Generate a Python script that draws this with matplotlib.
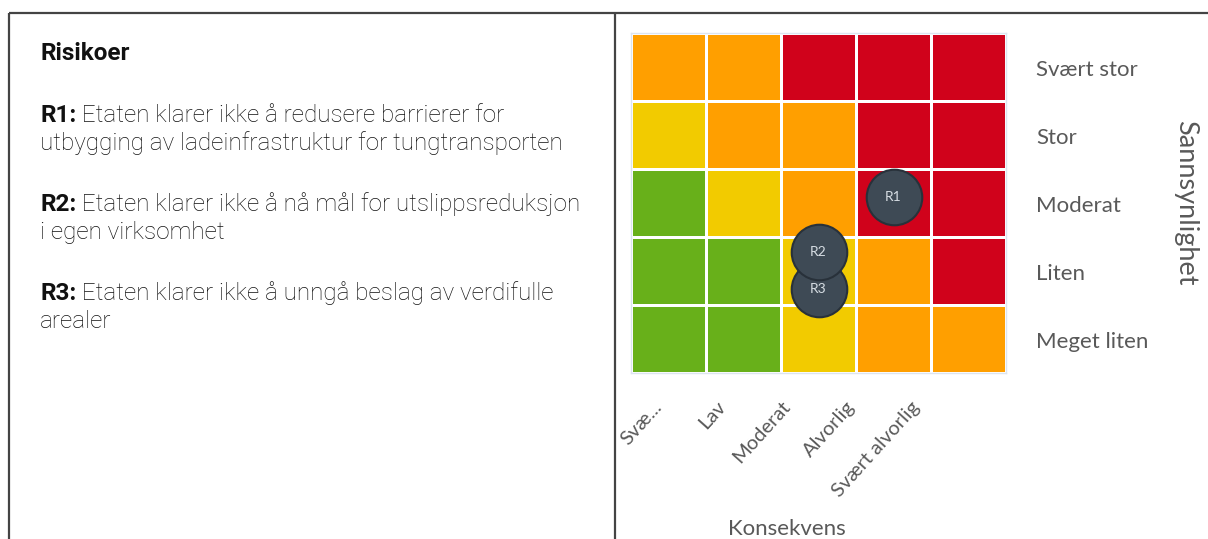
import numpy as np
import matplotlib
matplotlib.use('Agg')
import matplotlib.pyplot as plt
from matplotlib.colors import ListedColormap

# risikomatrise: rader = sannsynlighet (nederst -> øverst), kolonner = konsekvens
konsekvens = ['Svæ...', 'Lav', 'Moderat', 'Alvorlig', 'Svært alvorlig']
sannsynlighet = ['Meget liten', 'Liten', 'Moderat', 'Stor', 'Svært stor']
# 0 = grønn, 1 = gul, 2 = oransje, 3 = rød
niva = [
    [0, 0, 1, 2, 2],
    [0, 0, 1, 2, 3],
    [0, 1, 2, 3, 3],
    [1, 2, 2, 3, 3],
    [2, 2, 3, 3, 3],
]
farger = ['#68b01a', '#f2cb00', '#ff9f00', '#d0021b']

risiko_navn = ['R3', 'R2', 'R1']
risiko_kons = [3, 3, 4]          # 1..5
risiko_sann = [2, 2, 3]          # 1..5
risiko_forskyv = [-0.27, 0.28, 0.09]   # stabling innen cellen

tekst_tittel = 'Risikoer'
tekst_koder = ['R1:', 'R2:', 'R3:']
tekst_linjer = [
    ['Etaten klarer ikke å redusere barrierer for',
     'utbygging av ladeinfrastruktur for tungtransporten'],
    ['Etaten klarer ikke å nå mål for utslippsreduksjon',
     'i egen virksomhet'],
    ['Etaten klarer ikke å unngå beslag av verdifulle',
     'arealer'],
]

W, H = 1208, 539
fig = plt.figure(figsize=(W / 100, H / 100), dpi=100)

# bakgrunnsakse i piksler for ramme og tekst
bg = fig.add_axes([0, 0, 1, 1])
bg.set_xlim(0, W)
bg.set_ylim(H, 0)
bg.axis('off')
bg.plot([9, W + 5], [13, 13], color='#444444', lw=1.6, solid_capstyle='butt')
bg.plot([9, 9], [13, H + 5], color='#444444', lw=1.6, solid_capstyle='butt')
bg.plot([614.5, 614.5], [13, H + 5], color='#444444', lw=1.6, solid_capstyle='butt')

body_font = 'Roboto'
fs = 17.5
bg.text(40, 60, tekst_tittel, fontsize=fs, fontweight='bold', family=body_font,
        color='#111111', va='baseline', ha='left')
y0 = 122
for i, (kode, linjer) in enumerate(zip(tekst_koder, tekst_linjer)):
    y = y0 + i * 89
    t = bg.text(40, y, kode, fontsize=fs, fontweight='bold', family=body_font,
                color='#111111', va='baseline', ha='left')
    bg.annotate(' ' + linjer[0], xy=(1, 0), xycoords=t, va='bottom', ha='left',
                fontsize=fs, fontweight='light', family=body_font, color='#111111')
    bg.text(40, y + 28, linjer[1], fontsize=fs, fontweight='light', family=body_font,
            color='#111111', va='baseline', ha='left')

# matrisen
ax = fig.add_axes([631 / W, 1 - 373 / H, 375 / W, 340 / H])
ax.pcolormesh(np.arange(6), np.arange(6), np.array(niva), cmap=ListedColormap(farger),
              vmin=-0.5, vmax=3.5, edgecolors='white', linewidth=2)
ax.set_xlim(0, 5)
ax.set_ylim(0, 5)
for s in ax.spines.values():
    s.set_color('#dce5f0')
    s.set_linewidth(1)
ax.set_xticks([])
ax.set_yticks([])

px = np.array(risiko_kons) - 0.5
py = np.array(risiko_sann) - 0.5 + np.array(risiko_forskyv)
for x, y, navn in zip(px, py, risiko_navn):
    ax.scatter([x], [y], s=1600, color='#3e4a55', edgecolors='#28313a',
               linewidths=1.5, zorder=3, clip_on=False)
    ax.text(x, y, navn, color='#d5dce2', fontsize=10, family='Lato',
            ha='center', va='center', zorder=4)

lab_col = '#595959'
for i, lab in enumerate(sannsynlighet):
    ax.text(5.4, i + 0.45, lab, fontsize=16, family='Lato', color=lab_col,
            ha='left', va='center')
for i, lab in enumerate(konsekvens):
    ax.text(0.45 + 0.86 * i, -0.37, lab, fontsize=14.5, family='Lato', color=lab_col,
            rotation=48, ha='right', va='top')

ax.text(2.08, -2.3, 'Konsekvens', fontsize=16, family='Lato', color=lab_col,
        ha='center', va='center')
ax.text(7.4, 2.5, 'Sannsynlighet', fontsize=19.5, family='Lato', color=lab_col,
        rotation=-90, ha='center', va='center')

fig.savefig('out.png', dpi=100)
